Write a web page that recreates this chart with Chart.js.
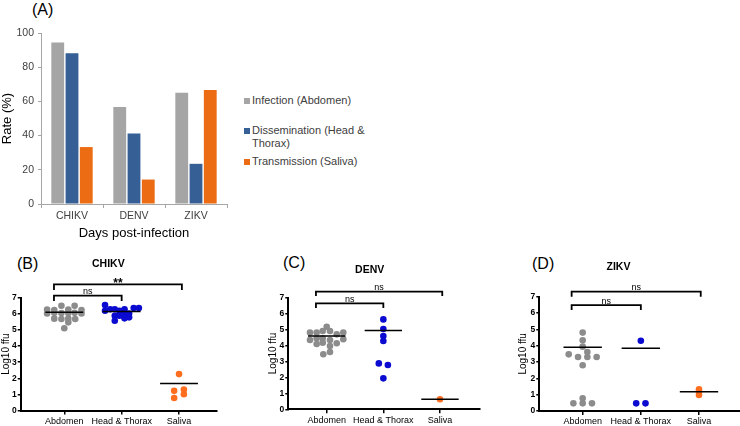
<!DOCTYPE html>
<html>
<head>
<meta charset="utf-8">
<script src="https://cdn.jsdelivr.net/npm/chart.js@4.4.1/dist/chart.umd.min.js"></script>
<style>
	body {
		margin: 0;
		width: 740px;
		height: 426px;
		overflow: hidden;
		background: #fff;
		position: relative;
		font-family: "Liberation Sans", Arial, sans-serif;
	}
	canvas { position: absolute; }
	.tag { position: absolute; font-size: 16px; line-height: 16px; color: #000; }
	.leg { position: absolute; left: 244px; font-size: 11px; line-height: 13.3px; color: #404040; padding-left: 8px; }
	.leg i { position: absolute; left: 0; top: 3.5px; width: 6px; height: 6px; }
</style>
</head>
<body>
<div class="tag" style="left:32px;top:2px">(A)</div>
<div class="tag" style="left:17px;top:256px">(B)</div>
<div class="tag" style="left:283px;top:255px">(C)</div>
<div class="tag" style="left:532px;top:256px">(D)</div>

<div class="leg" style="top:94px"><i style="background:#a5a5a5"></i>Infection (Abdomen)</div>
<div class="leg" style="top:124px"><i style="background:#355f95"></i>Dissemination (Head &amp;<br>Thorax)</div>
<div class="leg" style="top:155px"><i style="background:#ec6c14"></i>Transmission (Saliva)</div>

<canvas id="chartA" width="240" height="245" style="left:0;top:0"></canvas>
<canvas id="chartB" width="260" height="176" style="left:0;top:250px"></canvas>
<canvas id="chartC" width="237" height="176" style="left:260px;top:250px"></canvas>
<canvas id="chartD" width="279" height="176" style="left:497px;top:250px"></canvas>

<script>
// (A) rates
const rateCategories = ["CHIKV", "DENV", "ZIKV"];
const infectionRate = [94.4, 56.7, 65.0];
const disseminationRate = [88.2, 41.2, 23.5];
const transmissionRate = [33.3, 14.3, 66.7];

const tissueLabels = ["Abdomen", "Head & Thorax", "Saliva"];

const chikvAbdomen = [6.50, 6.50, 6.27, 6.24, 6.27, 6.24, 6.02, 6.06, 6.05, 6.05, 6.06, 6.02, 5.70, 5.68, 5.70, 5.68, 5.47, 5.10];
const chikvAbdomenX = [-0.05, 0.18, -0.30, -0.175, 0.07, 0.30, -0.30, -0.175, -0.05, 0.07, 0.18, 0.30, -0.175, -0.05, 0.07, 0.19, 0.07, 0];
const chikvHead = [6.54, 6.19, 6.28, 6.28, 6.19, 6.28, 6.36, 6.36, 5.88, 5.88, 6.02, 6.02, 5.78, 5.72, 5.57];
const chikvHeadX = [-0.29, -0.29, -0.20, -0.12, -0.04, 0.05, 0.21, 0.30, -0.12, -0.04, 0.05, 0.13, 0.13, 0.05, -0.12];
const chikvSaliva = [2.26, 1.30, 1.22, 1.01, 0.78];
const chikvSalivaX = [0, 0.085, -0.085, 0.085, -0.085];
const chikvMedians = [6.10, 6.15, 1.68];
const chikvBrackets = [
	{ from: 0.82, to: 2.0, top: 7.13, foot: 6.80, label: "ns" },
	{ from: 0.82, to: 3.05, top: 7.83, foot: 7.48, label: "**" },
];

const denvAbdomen = [5.18, 4.81, 4.81, 4.91, 4.91, 4.70, 4.81, 4.35, 4.45, 4.45, 4.35, 4.39, 4.10, 4.18, 3.97, 4.14, 3.59, 3.45];
const denvAbdomenX = [0, -0.295, -0.177, -0.07, 0.058, 0.177, 0.293, -0.295, -0.177, -0.07, 0.058, 0.293, -0.177, -0.07, 0.058, 0.177, 0.058, -0.06];
const denvHead = [5.64, 5.04, 4.60, 4.28, 2.88, 2.78, 1.94];
const denvHeadX = [0, 0, 0, 0, -0.08, 0.08, 0];
const denvSaliva = [0.63];
const denvSalivaX = [0];
const denvMedians = [4.60, 4.95, 0.63];
const denvBrackets = [
	{ from: 0.81, to: 2.0, top: 6.65, foot: 6.36, label: "ns" },
	{ from: 0.81, to: 3.04, top: 7.38, foot: 7.11, label: "ns" },
];

const zikvAbdomen = [4.80, 4.33, 3.94, 3.61, 3.47, 3.31, 3.31, 3.31, 2.80, 0.78, 0.47, 0.47, 0.47];
const zikvAbdomenX = [0, 0, 0, 0.08, -0.24, -0.08, 0.08, 0.24, 0, 0, -0.16, 0, 0.16];
const zikvHead = [4.30, 0.47, 0.47];
const zikvHeadX = [0, -0.08, 0.08];
const zikvSaliva = [1.33, 1.18, 0.98];
const zikvSalivaX = [0, 0, 0];
const zikvMedians = [3.90, 3.84, 1.18];
const zikvBrackets = [
	{ from: 0.81, to: 2.0, top: 6.49, foot: 6.18, label: "ns" },
	{ from: 0.81, to: 3.03, top: 7.31, foot: 7.0, label: "ns" },
];

const FONT = '"Liberation Sans", Arial, sans-serif';
Chart.defaults.font.family = FONT;
Chart.defaults.color = "#000";

// Bar chart (A)
new Chart(document.getElementById("chartA"), {
	type: "bar",
	data: {
		labels: rateCategories,
		datasets: [
			{ label: "Infection (Abdomen)", data: infectionRate, backgroundColor: "#a5a5a5" },
			{ label: "Dissemination (Head & Thorax)", data: disseminationRate, backgroundColor: "#355f95" },
			{ label: "Transmission (Saliva)", data: transmissionRate, backgroundColor: "#ec6c14" },
		],
	},
	options: {
		responsive: false,
		animation: false,
		devicePixelRatio: 1,
		layout: { padding: { top: 33, right: 13, left: 0, bottom: 0 } },
		datasets: { bar: { barPercentage: 0.9, categoryPercentage: 0.69 } },
		plugins: { legend: { display: false }, tooltip: { enabled: false } },
		scales: {
			x: {
				grid: { offset: true, drawOnChartArea: false, tickLength: 4, color: "#a6a6a6" },
				border: { color: "#a6a6a6" },
				ticks: { color: "#404040", font: { size: 10.5 }, padding: 2 },
				title: { display: true, text: "Days post-infection", font: { size: 13 }, padding: { top: 0, bottom: 4 } },
				afterFit: (s) => { s.height = 41; },
			},
			y: {
				min: 0,
				max: 100,
				ticks: { stepSize: 20, color: "#404040", font: { size: 10.5 }, padding: 4 },
				grid: { drawOnChartArea: false, tickLength: 3, color: "#a6a6a6" },
				border: { color: "#a6a6a6" },
				title: { display: true, text: "Rate (%)", font: { size: 13 }, padding: { top: 0, bottom: 0 } },
				afterFit: (s) => { s.width = 41; },
			},
		},
	},
});

// labels over significance brackets
const bracketLabels = {
	id: "bracketLabels",
	afterDatasetsDraw(chart, args, opts) {
		const { ctx, scales: { x, y } } = chart;
		ctx.save();
		ctx.fillStyle = "#000";
		ctx.textAlign = "center";
		ctx.textBaseline = "alphabetic";
		(opts.items || []).forEach((b) => {
			const stars = b.label.startsWith("*");
			ctx.font = (stars ? "bold 12px " : "9px ") + FONT;
			ctx.fillText(b.label, x.getPixelForValue((b.from + b.to) / 2), y.getPixelForValue(b.top) + (stars ? 2.5 : -1.5));
		});
		ctx.restore();
	},
};

function dots(values, offsets, cat, color) {
	return {
		data: values.map((v, i) => ({ x: cat + offsets[i], y: v })),
		backgroundColor: color,
		borderWidth: 0,
		pointRadius: 3.3,
		clip: false,
		order: 2,
	};
}

function segment(points, width) {
	return {
		data: points,
		showLine: true,
		borderColor: "#000",
		borderWidth: width,
		pointRadius: 0,
		clip: false,
		order: 0,
	};
}

function dotPlot(id, title, groups, medians, brackets, lay) {
	const colors = ["#8c8c8c", "#0a0ad0", "#ff6d1f"];
	const datasets = [];
	groups.forEach(([vals, offs], i) => datasets.push(dots(vals, offs, i + 1, colors[i])));
	medians.forEach((m, i) => datasets.push(segment([{ x: i + 0.67, y: m }, { x: i + 1.33, y: m }], 1.5)));
	brackets.forEach((b) =>
		datasets.push(segment([
			{ x: b.from, y: b.foot }, { x: b.from, y: b.top },
			{ x: b.to, y: b.top }, { x: b.to, y: b.foot },
		], 1.8)),
	);

	new Chart(document.getElementById(id), {
		type: "scatter",
		data: { datasets },
		plugins: [bracketLabels],
		options: {
			responsive: false,
			animation: false,
			devicePixelRatio: 1,
			layout: { padding: { top: 0, left: 0, right: lay.right, bottom: 0 } },
			plugins: {
				legend: { display: false },
				tooltip: { enabled: false },
				bracketLabels: { items: brackets },
				title: {
					display: true,
					text: title,
					font: { size: 10.5, weight: "bold" },
					padding: { top: lay.titleTop, bottom: lay.titleBottom },
				},
			},
			scales: {
				x: {
					type: "linear",
					min: lay.xMin,
					max: lay.xMax,
					afterBuildTicks: (s) => { s.ticks = tissueLabels.map((_, i) => ({ value: i + 1 })); },
					ticks: { callback: (v) => tissueLabels[v - 1], font: { size: 9 }, padding: 1.5, maxRotation: 0 },
					grid: { drawOnChartArea: false, tickLength: 4, color: "#000", lineWidth: 1.5 },
					border: { color: "#000", width: 2 },
					afterFit: (s) => { s.height = lay.xHeight; },
				},
				y: {
					min: 0,
					max: 7,
					ticks: { stepSize: 1, font: { size: 8.5, weight: "bold" }, padding: 1 },
					grid: { drawOnChartArea: false, tickLength: 3, color: "#000", lineWidth: 1.5 },
					border: { color: "#000", width: 2 },
					title: { display: true, text: "Log10 ffu", font: { size: 10 }, padding: { top: lay.yTitle, bottom: 0 } },
					afterFit: (s) => { s.width = lay.yWidth; },
				},
			},
		},
	});
}

dotPlot("chartB", "CHIKV",
	[[chikvAbdomen, chikvAbdomenX], [chikvHead, chikvHeadX], [chikvSaliva, chikvSalivaX]],
	chikvMedians, chikvBrackets,
	{ right: 43.3, titleTop: 8, titleBottom: 27.1, xMin: 0.24, xMax: 3.657, xHeight: 15.5, yWidth: 20.7, yTitle: 0.7 });

dotPlot("chartC", "DENV",
	[[denvAbdomen, denvAbdomenX], [denvHead, denvHeadX], [denvSaliva, denvSalivaX]],
	denvMedians, denvBrackets,
	{ right: 17.7, titleTop: 13.7, titleBottom: 21.4, xMin: 0.322, xMax: 3.694, xHeight: 16.7, yWidth: 28.3, yTitle: 7.3 });

dotPlot("chartD", "ZIKV",
	[[zikvAbdomen, zikvAbdomenX], [zikvHead, zikvHeadX], [zikvSaliva, zikvSalivaX]],
	zikvMedians, zikvBrackets,
	{ right: 36, titleTop: 11, titleBottom: 23.1, xMin: 0.254, xMax: 3.705, xHeight: 15, yWidth: 42.3, yTitle: 20.3 });
</script>
</body>
</html>
